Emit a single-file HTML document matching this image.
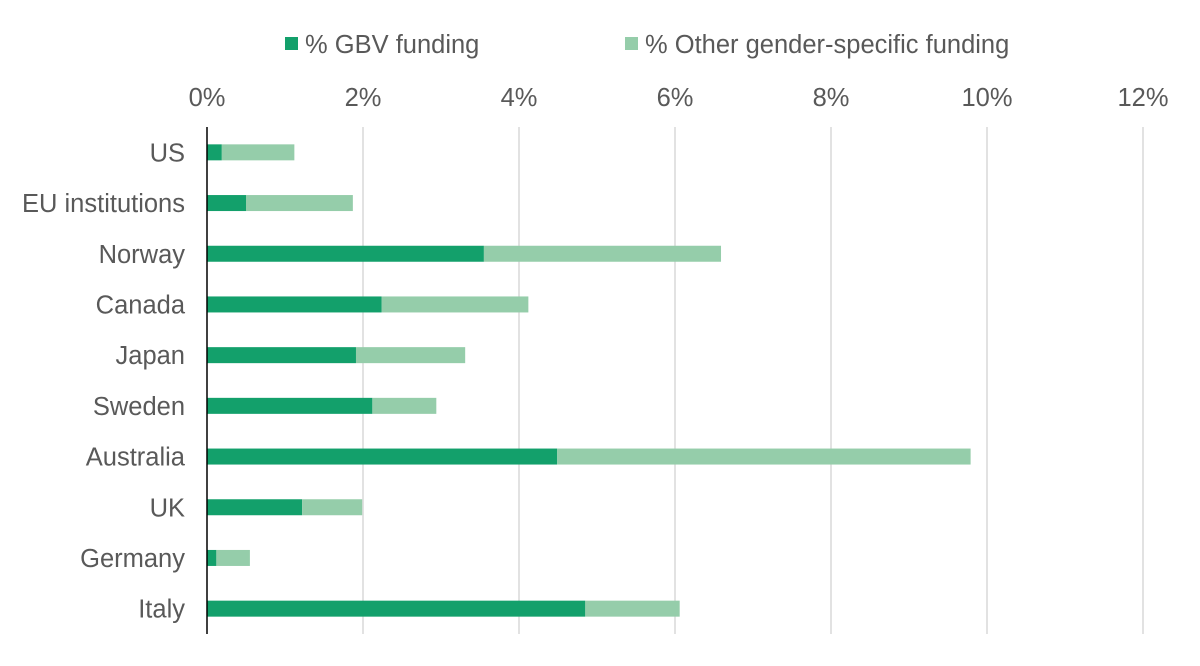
<!DOCTYPE html>
<html><head><meta charset="utf-8">
<style>
body{margin:0;background:#fff;}
svg{display:block;font-family:"Liberation Sans",Arial,sans-serif;}
</style></head>
<body>
<svg id="chart" width="1200" height="666">
<g id="legend">
  <rect x="285" y="37" width="13" height="13" fill="#13a06b"/>
  <text x="305" y="53" font-size="25.5" fill="#595959">% GBV funding</text>
  <rect x="625" y="37" width="13" height="13" fill="#95cdaa"/>
  <text x="645" y="53" font-size="25.5" fill="#595959">% Other gender-specific funding</text>
</g>
<g id="grid"></g><g id="bars"></g><g id="labels"></g>
<line x1="207" y1="127" x2="207" y2="634" stroke="#000" stroke-width="1.5"/>
</svg>
<script>
const categories=["US","EU institutions","Norway","Canada","Japan","Sweden","Australia","UK","Germany","Italy"];
const gbv=[0.19,0.5,3.55,2.24,1.91,2.12,4.49,1.22,0.12,4.85];
const other=[0.93,1.37,3.04,1.88,1.40,0.82,5.30,0.77,0.43,1.21];
const ticks=[0,2,4,6,8,10,12];
const NS="http://www.w3.org/2000/svg";
const x0=207,pxPer=78,plotTop=127,plotBottom=634;
const xs=v=>x0+v*pxPer;
const rowH=(plotBottom-plotTop)/categories.length;
const ys=i=>plotTop+rowH*(i+0.5);
function mk(t,a,p){const e=document.createElementNS(NS,t);for(const k in a)e.setAttribute(k,a[k]);p.appendChild(e);return e;}
const gridG=document.getElementById('grid'),barsG=document.getElementById('bars'),labelsG=document.getElementById('labels');
ticks.forEach(t=>{
  if(t>0){const l=mk('line',{x1:xs(t),x2:xs(t),y1:plotTop,y2:plotBottom,stroke:'#d9d9d9','stroke-width':1.5},gridG);
  
  }
  const tx=mk('text',{x:xs(t),y:106,'font-size':25.5,fill:'#595959','text-anchor':'middle'},labelsG);
  tx.textContent=t+'%';
  
  
});
categories.forEach((c,i)=>{
  const cy=ys(i);
  const slug=c.toLowerCase().replace(/\s+/g,'-');
  const b1=mk('rect',{x:xs(0),y:cy-8,width:xs(gbv[i])-xs(0),height:16,fill:'#13a06b'},barsG);
  
  
  const b2=mk('rect',{x:xs(gbv[i]),y:cy-8,width:xs(gbv[i]+other[i])-xs(gbv[i]),height:16,fill:'#95cdaa'},barsG);
  
  
  const t=mk('text',{x:185,y:cy+9,'font-size':25.5,fill:'#595959','text-anchor':'end'},labelsG);
  t.textContent=c;
  
  
});
</script>
</body></html>
